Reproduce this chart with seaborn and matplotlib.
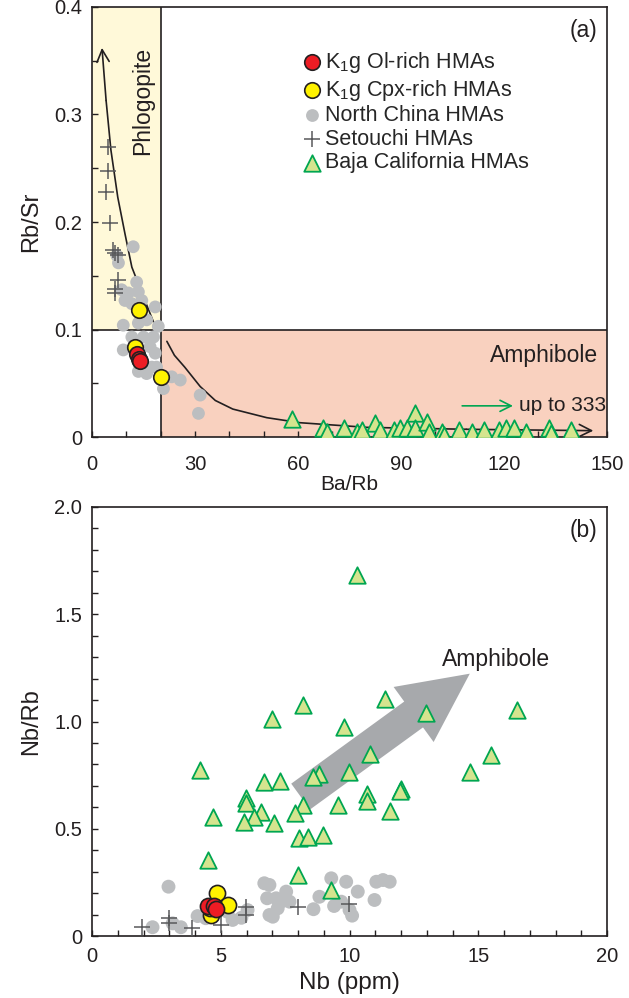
import matplotlib
matplotlib.use("Agg")
import matplotlib.pyplot as plt
from matplotlib.ticker import MultipleLocator
import seaborn as sns

# ---------------- data: panel (a) Rb/Sr vs Ba/Rb ----------------
ol_a_x = [13.0, 13.6, 14.0]
ol_a_y = [0.077, 0.073, 0.071]
cpx_a_x = [13.7, 12.5, 20.1]
cpx_a_y = [0.118, 0.084, 0.056]
nc_a_x = [12.0, 7.2, 7.7, 13.0, 8.6, 10.6, 13.5, 9.6, 11.6, 14.5, 18.4, 9.1, 13.5, 15.9,
          19.3, 11.6, 15.0, 17.9, 9.1, 16.9, 18.4, 14.5, 17.4, 18.8, 13.5, 15.9, 23.2,
          25.7, 20.8, 31.5, 31.0]
nc_a_y = [0.177, 0.169, 0.162, 0.144, 0.137, 0.134, 0.135, 0.127, 0.124, 0.127, 0.121,
          0.104, 0.106, 0.109, 0.103, 0.093, 0.093, 0.093, 0.081, 0.084, 0.078, 0.069,
          0.065, 0.065, 0.061, 0.059, 0.056, 0.053, 0.045, 0.039, 0.022]
st_a_x = [4.75, 4.75, 4.0, 5.2, 6.2, 7.7, 6.6, 7.7, 6.7, 6.7]
st_a_y = [0.270, 0.247, 0.228, 0.199, 0.174, 0.169, 0.171, 0.146, 0.138, 0.134]
bc_a_x = [58.2, 67.4, 68.4, 73.3, 77.2, 78.6, 82.5, 84.0, 87.9, 89.8, 91.7, 94.2, 94.2,
          97.6, 98.0, 101.9, 102.4, 106.8, 110.7, 114.1, 118.5, 120.5, 122.9, 126.3,
          133.1, 133.6, 139.4]
bc_a_y = [0.0165, 0.0081, 0.0049, 0.0081, 0.0049, 0.0065, 0.0127, 0.0065, 0.0065, 0.0081,
          0.0081, 0.022, 0.0081, 0.0142, 0.0049, 0.0049, 0.0019, 0.0065, 0.0049, 0.0065,
          0.0065, 0.0081, 0.0081, 0.0049, 0.0081, 0.0034, 0.0065]

# melting trend curves (phlogopite branch, amphibole branch)
trend_phl_x = [17.9, 15.4, 11.6, 9.6, 7.5, 5.5, 4.1, 2.9]
trend_phl_y = [0.107, 0.127, 0.158, 0.189, 0.223, 0.267, 0.313, 0.362]
trend_amp_x = [21.8, 24.0, 27.0, 31.5, 35.9, 41.0, 50.9, 60.6, 80.0, 109.0, 146.0]
trend_amp_y = [0.089, 0.076, 0.065, 0.047, 0.034, 0.026, 0.018, 0.0133, 0.009, 0.0072, 0.0059]

# ---------------- data: panel (b) Nb/Rb vs Nb ----------------
ol_b_x = [4.49, 4.75, 4.81]
ol_b_y = [0.140, 0.140, 0.128]
cpx_b_x = [4.85, 5.27, 4.62, 4.60]
cpx_b_y = [0.200, 0.145, 0.098, 0.130]
nc_b_x = [2.97, 2.35, 3.13, 3.45, 4.10, 4.42, 4.62, 5.26, 5.46, 6.04, 6.69, 6.80, 6.89,
          7.21, 7.34, 6.89, 7.15, 7.02, 7.54, 7.67, 8.83, 9.29, 9.87, 9.68, 10.0, 10.32,
          11.04, 11.30, 11.56, 10.97, 5.8, 8.6, 9.4, 10.1]
nc_b_y = [0.230, 0.041, 0.059, 0.041, 0.093, 0.083, 0.106, 0.113, 0.075, 0.121, 0.246,
          0.176, 0.098, 0.129, 0.160, 0.238, 0.176, 0.090, 0.207, 0.160, 0.183, 0.269,
          0.253, 0.160, 0.121, 0.207, 0.253, 0.261, 0.253, 0.168, 0.085, 0.125, 0.140, 0.095]
st_b_x = [1.96, 3.0, 3.0, 3.90, 5.0, 5.98, 5.98, 7.99, 9.97]
st_b_y = [0.043, 0.083, 0.059, 0.036, 0.051, 0.137, 0.098, 0.134, 0.149]
bc_b_x = [10.28, 8.18, 11.39, 12.98, 6.99, 9.78, 10.79, 4.19, 9.99, 8.81, 8.57, 6.68, 7.29,
          5.98, 5.98, 8.18, 10.69, 10.69, 11.98, 11.95, 9.57, 6.58, 6.28, 4.68, 5.89, 7.08,
          7.90, 11.57, 8.05, 8.38, 8.96, 16.49, 15.49, 14.67, 4.49, 7.99, 9.29]
bc_b_y = [1.683, 1.077, 1.104, 1.038, 1.010, 0.976, 0.848, 0.774, 0.766, 0.755, 0.740,
          0.719, 0.723, 0.642, 0.619, 0.611, 0.661, 0.631, 0.684, 0.676, 0.611, 0.579,
          0.556, 0.556, 0.533, 0.528, 0.572, 0.583, 0.455, 0.463, 0.471, 1.054, 0.844,
          0.766, 0.354, 0.284, 0.214]

labels = ["K$_\\mathregular{1}$g Ol-rich HMAs", "K$_\\mathregular{1}$g Cpx-rich HMAs",
          "North China HMAs", "Setouchi HMAs", "Baja California HMAs"]

# ---------------- style ----------------
sns.set_style("ticks")
plt.rcParams["font.family"] = ["Liberation Sans", "DejaVu Sans"]
plt.rcParams["mathtext.fontset"] = "custom"
plt.rcParams["mathtext.rm"] = "Liberation Sans"
plt.rcParams["mathtext.it"] = "Liberation Sans:italic"
INK = "#231f20"
RED, YEL = "#ed1c24", "#fff200"
GRAY, PLUS = "#bcbec0", "#58595b"
TRI_FACE, TRI_EDGE = "#d5e48e", "#00a651"
PHL_FILL, AMP_FILL = "#fff9d9", "#f9d1bf"

fig = plt.figure(figsize=(6.29, 9.98), dpi=100)
ax1 = fig.add_axes([0.1463, 0.5621, 0.8188, 0.4309])
ax2 = fig.add_axes([0.1463, 0.0621, 0.8188, 0.4299])


def draw_groups(ax, groups, sizes, with_labels):
    (ncx, ncy), (stx, sty), (bcx, bcy), (cpxx, cpxy), (olx, oly) = groups
    s_gray, s_big, s_tri = sizes
    sns.scatterplot(x=ncx, y=ncy, ax=ax, color=GRAY, edgecolor="none", s=s_gray,
                    zorder=3, label=labels[2] if with_labels else None)
    sns.scatterplot(x=stx, y=sty, ax=ax, marker="+", color=PLUS, s=120, linewidth=1.1,
                    zorder=4, label=labels[3] if with_labels else None)
    sns.scatterplot(x=bcx, y=bcy, ax=ax, marker="^", color=TRI_FACE, edgecolor=TRI_EDGE,
                    linewidth=1.3, s=s_tri, zorder=5,
                    label=labels[4] if with_labels else None)
    sns.scatterplot(x=cpxx, y=cpxy, ax=ax, color=YEL, edgecolor=INK, linewidth=1.2,
                    s=s_big, zorder=6, label=labels[1] if with_labels else None)
    sns.scatterplot(x=olx, y=oly, ax=ax, color=RED, edgecolor=INK, linewidth=1.2,
                    s=s_big, zorder=7, label=labels[0] if with_labels else None)


def style_axes(ax, xpad):
    for sp in ax.spines.values():
        sp.set_visible(True)
        sp.set_color(INK)
        sp.set_linewidth(1.2)
    ax.tick_params(which="both", direction="in", length=4, width=1.0, color=INK,
                   labelsize=14.5, labelcolor=INK, top=False, right=False)
    ax.tick_params(axis="x", pad=xpad)
    ax.tick_params(axis="y", pad=7)


zero_fmt = plt.FuncFormatter(lambda v, p: "0" if abs(v) < 1e-9 else f"{v:.1f}")

# ---------------- panel (a) ----------------
ax1.fill_between([0, 20], 0.1, 0.4, color=PHL_FILL, lw=0, zorder=0)
ax1.fill_between([20, 150], 0, 0.1, color=AMP_FILL, lw=0, zorder=0)
ax1.axvline(20, color=INK, lw=1.2, zorder=1)
ax1.axhline(0.1, color=INK, lw=1.2, zorder=1)

for tx, ty in [(trend_phl_x, trend_phl_y), (trend_amp_x, trend_amp_y)]:
    ax1.plot(tx[:-1], ty[:-1], color=INK, lw=1.2, zorder=2)
    ax1.annotate("", xy=(tx[-1], ty[-1]), xytext=(tx[-2], ty[-2]),
                 arrowprops=dict(arrowstyle="->", lw=1.2, color=INK, mutation_scale=22,
                                 shrinkA=0, shrinkB=0), zorder=2)

draw_groups(ax1, [(nc_a_x, nc_a_y), (st_a_x, st_a_y), (bc_a_x, bc_a_y),
                  (cpx_a_x, cpx_a_y), (ol_a_x, ol_a_y)], (85, 125, 140), True)

ax1.annotate("", xy=(122.6, 0.029), xytext=(107.8, 0.029),
             arrowprops=dict(arrowstyle="->", lw=1.2, color=TRI_EDGE, mutation_scale=20,
                             shrinkA=0, shrinkB=0), zorder=8)
ax1.text(124.4, 0.029, "up to 333", fontsize=15, color=INK, va="center", ha="left", zorder=8)
ax1.text(147.5, 0.076, "Amphibole", fontsize=16.5, color=INK, va="center", ha="right")
ax1.text(14.6, 0.313, "Phlogopite", fontsize=16.5, color=INK, va="center", ha="center",
         rotation=90)
ax1.text(0.982, 0.945, "(a)", transform=ax1.transAxes, fontsize=16.5, color=INK,
         ha="right", va="center")

ax1.set_xlim(0, 150)
ax1.set_ylim(0, 0.4)
ax1.xaxis.set_major_locator(MultipleLocator(30))
ax1.xaxis.set_minor_locator(MultipleLocator(10))
ax1.yaxis.set_major_locator(MultipleLocator(0.1))
ax1.yaxis.set_minor_locator(MultipleLocator(0.05))
ax1.yaxis.set_major_formatter(zero_fmt)
ax1.set_xlabel("Ba/Rb", fontsize=15, color=INK)
ax1.set_ylabel("Rb/Sr", fontsize=17, color=INK)
ax1.xaxis.set_label_coords(0.5, -0.088)
ax1.yaxis.set_label_coords(-0.097, 0.5)
style_axes(ax1, 13)

hs, ls = ax1.get_legend_handles_labels()
order = [ls.index(l) for l in labels]
ax1.legend([hs[i] for i in order], [ls[i] for i in order], loc="upper left",
           bbox_to_anchor=(0.405, 0.9), frameon=False, fontsize=15.5, borderpad=0,
           handletextpad=0.05, handlelength=1.1, labelspacing=0.12, borderaxespad=0,
           markerscale=1.0)

# ---------------- panel (b) ----------------
ax2.annotate("", xy=(14.67, 1.223), xytext=(8.1, 0.65),
             arrowprops=dict(arrowstyle="simple,head_length=5.0,head_width=4.9,tail_width=2.3",
                             color="#a7a9ac", lw=0, mutation_scale=10, shrinkA=0, shrinkB=0),
             zorder=2)
draw_groups(ax2, [(nc_b_x, nc_b_y), (st_b_x, st_b_y), (bc_b_x, bc_b_y),
                  (cpx_b_x, cpx_b_y), (ol_b_x, ol_b_y)], (100, 135, 140), False)
ax2.text(13.6, 1.287, "Amphibole", fontsize=16.5, color=INK, va="center", ha="left")
ax2.text(0.982, 0.946, "(b)", transform=ax2.transAxes, fontsize=16.5, color=INK,
         ha="right", va="center")

ax2.set_xlim(0, 20)
ax2.set_ylim(0, 2.0)
ax2.xaxis.set_major_locator(MultipleLocator(5))
ax2.xaxis.set_minor_locator(MultipleLocator(1))
ax2.yaxis.set_major_locator(MultipleLocator(0.5))
ax2.yaxis.set_minor_locator(MultipleLocator(0.1))
ax2.yaxis.set_major_formatter(zero_fmt)
ax2.set_xlabel("Nb (ppm)", fontsize=17.5, color=INK)
ax2.set_ylabel("Nb/Rb", fontsize=17, color=INK)
ax2.xaxis.set_label_coords(0.5, -0.084)
ax2.yaxis.set_label_coords(-0.097, 0.5)
style_axes(ax2, 8)
if ax2.get_legend() is not None:
    ax2.get_legend().remove()

fig.savefig("out.png", dpi=100)
